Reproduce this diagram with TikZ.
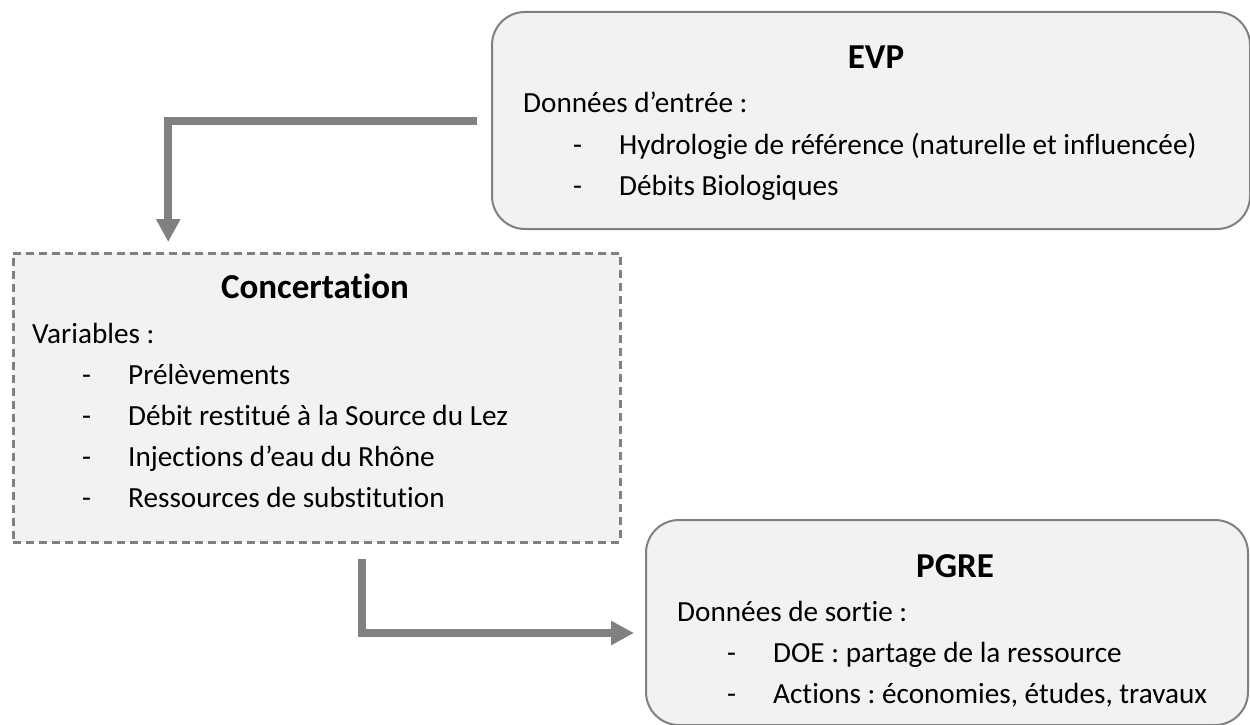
\documentclass[tikz,border=0pt]{standalone}
\usepackage{fontspec}
\setmainfont{Carlito}[Ligatures=NoCommon]
\usetikzlibrary{arrows.meta}
\definecolor{boxfill}{RGB}{242,242,242}
\definecolor{linegray}{RGB}{128,128,128}
\frenchspacing
\begin{document}
\begin{tikzpicture}[x=1pt,y=-1pt,
  rbox/.style={draw=linegray, line width=2pt, fill=boxfill, rounded corners=33pt, inner sep=0pt, anchor=north west},
  dbox/.style={draw=linegray, line width=2.5pt, fill=boxfill, dash pattern=on 8pt off 5pt, inner sep=0pt, anchor=north west},
  conn/.style={draw=linegray, line width=8pt, line join=miter, -{Triangle[width=23pt,length=23pt]}},
  ttl/.style={font=\fontsize{35}{42}\selectfont\bfseries\frenchspacing, anchor=base, inner sep=0pt},
  txt/.style={font=\fontsize{29.2}{35}\selectfont\frenchspacing, anchor=base west, inner sep=0pt}]
\fill[white] (0,0) rectangle (1250,725);
\useasboundingbox (0,0) rectangle (1250,725);

% boxes
\node[rbox, minimum width=758pt, minimum height=217pt] (evp) at (491,11) {};
\node[dbox, minimum width=607pt, minimum height=289pt] (conc) at (12,252) {};
\node[rbox, minimum width=602pt, minimum height=205pt] (pgre) at (645,519) {};

% EVP texts
\node[ttl] (evpT) at (876,68) {EVP};
\node[txt] (evp0) at (523,112) {Données d’entrée :};
\node[txt] (evpd1) at (573,154) {-};
\node[txt] (evp1) at (619,154) {Hydrologie de référence (naturelle et influencée)};
\node[txt] (evpd2) at (573,195) {-};
\node[txt] (evp2) at (619,195) {Débits Biologiques};

% Concertation texts
\node[ttl] (concT) at (315,298) {Concertation};
\node[txt] (conc0) at (32,343) {Variables :};
\node[txt] (concd1) at (82,384) {-};
\node[txt] (conc1) at (128,384) {Prélèvements};
\node[txt] (concd2) at (82,425) {-};
\node[txt] (conc2) at (128,425) {Débit restitué à la Source du Lez};
\node[txt] (concd3) at (82,466) {-};
\node[txt] (conc3) at (128,466) {Injections d’eau du Rhône};
\node[txt] (concd4) at (82,507) {-};
\node[txt] (conc4) at (128,507) {Ressources de substitution};

% PGRE texts
\node[ttl] (pgreT) at (955,577) {PGRE};
\node[txt] (pgre0) at (677,621) {Données de sortie :};
\node[txt] (pgred1) at (727,662) {-};
\node[txt] (pgre1) at (773,662) {DOE : partage de la ressource};
\node[txt] (pgred2) at (727,703) {-};
\node[txt] (pgre2) at (773,703) {Actions : économies, études, travaux};

% connectors
\draw[conn] ([xshift=-14pt]evp.west) -| ([xshift=-148.5pt,yshift=10pt]conc.north);
\draw[conn] ([xshift=45.5pt,yshift=-15pt]conc.south) |- ([xshift=-11pt,yshift=-10.5pt]pgre.west);
\end{tikzpicture}
\end{document}
